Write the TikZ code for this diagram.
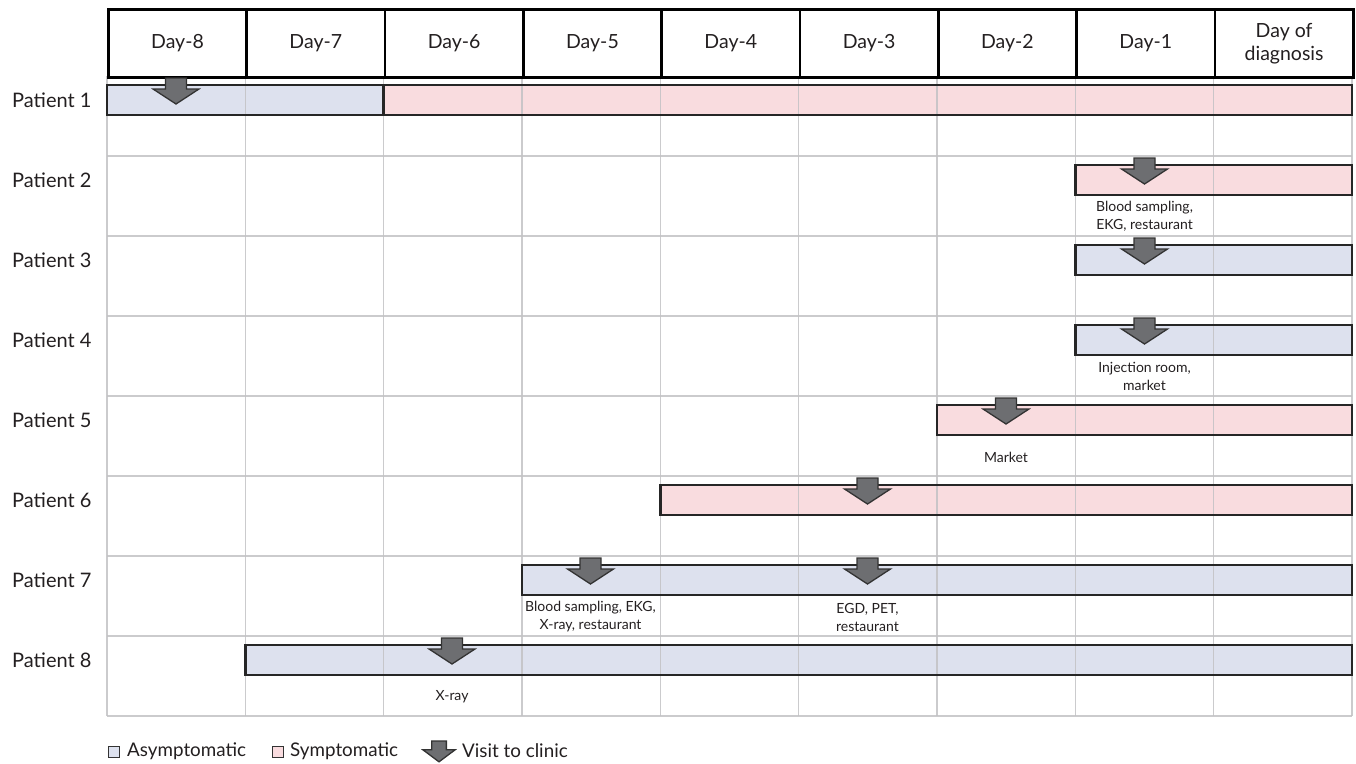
\documentclass[tikz,border=0pt]{standalone}
\usepackage{fontspec}
\setmainfont{Lato}
\definecolor{asym}{HTML}{DDE1EE}
\definecolor{sym}{HTML}{F9DCDF}
\definecolor{visitgray}{HTML}{6D6E71}
\definecolor{gridgray}{HTML}{C2C2C4}
\definecolor{textgray}{HTML}{231F20}

\tikzset{
  daycell/.style={draw=black, line width=2.6pt, fill=white, anchor=north west,
    minimum width=138.33pt, minimum height=68pt, inner sep=0pt, align=center,
    text=textgray, font=\fontsize{19.5}{23}\selectfont},
  patient/.style={anchor=west, inner sep=0pt, text=textgray, font=\fontsize{20}{22}\selectfont},
  bar/.style={draw=black!85, line width=2.4pt},
  note/.style={align=center, inner sep=0pt, text=textgray, font=\fontsize{14}{18}\selectfont},
  legend/.style={anchor=west, inner sep=0pt, text=textgray, font=\fontsize{18.8}{20}\selectfont},
  visit/.pic={
    \draw[fill=visitgray, draw=black!80, line width=1.3pt, line join=miter]
      (-10.5,-7) -- (10.5,-7) -- (10.5,4) -- (23,4) -- (0,19) -- (-23,4) -- (-10.5,4) -- cycle;
  }
}

\begin{document}
\begin{tikzpicture}[x=1pt, y=-1pt]
  \useasboundingbox (0,0) rectangle (1356,763);
  % bars
  \draw[bar, fill=asym] (107,85) rectangle (383.67,115);
  \draw[bar, fill=sym] (383.67,85) rectangle (1352,115);
  \draw[bar, fill=sym] (1075.3,165) rectangle (1352,195);
  \draw[bar, fill=asym] (1075.3,245) rectangle (1352,275);
  \draw[bar, fill=asym] (1075.3,325) rectangle (1352,355);
  \draw[bar, fill=sym] (937,405) rectangle (1352,435);
  \draw[bar, fill=sym] (660.3,485) rectangle (1352,515);
  \draw[bar, fill=asym] (522,565) rectangle (1352,595);
  \draw[bar, fill=asym] (245.3,645) rectangle (1352,675);
  % grid
  \foreach \i in {0,...,9}
    \draw[gridgray, line width=1.1pt, opacity=0.85] (107+\i*138.33,76) -- (107+\i*138.33,716);
  \foreach \k in {1,...,8}
    \draw[gridgray, line width=1.1pt, opacity=0.85] (107,76+\k*80) -- (1352,76+\k*80);
  % bar outlines again on top of grid
  \draw[bar] (107,85) rectangle (1352,115);
  \draw[bar] (383.67,85) -- (383.67,115);
  \draw[bar] (1075.3,165) rectangle (1352,195);
  \draw[bar] (1075.3,245) rectangle (1352,275);
  \draw[bar] (1075.3,325) rectangle (1352,355);
  \draw[bar] (937,405) rectangle (1352,435);
  \draw[bar] (660.3,485) rectangle (1352,515);
  \draw[bar] (522,565) rectangle (1352,595);
  \draw[bar] (245.3,645) rectangle (1352,675);
  % header
  \foreach \lbl [count=\i from 0] in {Day-8,Day-7,Day-6,Day-5,Day-4,Day-3,Day-2,Day-1,{Day of\\diagnosis}}
    \node[daycell] (day\i) at (107+\i*138.33,8) {\lbl};
  % patients
  \foreach \n in {1,...,8}
    \node[patient] (p\n) at (12,100+\n*80-80) {Patient \n};
  % visits
  \pic at (176,85) {visit};
  \pic at (1144.5,165) {visit};
  \pic at (1144.5,245) {visit};
  \pic at (1144.5,325) {visit};
  \pic at (1006,405) {visit};
  \pic at (867.5,485) {visit};
  \pic at (590.5,565) {visit};
  \pic at (867.5,565) {visit};
  \pic at (452,645) {visit};
  % notes
  \node[note] (n2) at (1144.5,216) {Blood sampling,\\EKG, restaurant};
  \node[note] (n4) at (1144.5,376) {Injection room,\\market};
  \node[note] (n5) at (1006,457) {Market};
  \node[note] (n7a) at (590.5,617) {Blood sampling, EKG,\\X-ray, restaurant};
  \node[note] (n7b) at (867.5,617) {EGD, PET,\\restaurant};
  \node[note] (n8) at (452,697) {X-ray};
  % legend
  \draw[draw=black!80, line width=1pt, fill=asym] (108,746) rectangle (119,757);
  \node[legend] (lasym) at (127,751) {Asymptomatic};
  \draw[draw=black!80, line width=1pt, fill=sym] (272,746) rectangle (283,757);
  \node[legend] (lsym) at (290,751) {Symptomatic};
  \pic[xscale=0.7, yscale=0.8] at (439,746.6) {visit};
  \node[legend] (lvisit) at (462,751) {Visit to clinic};
\end{tikzpicture}
\end{document}
